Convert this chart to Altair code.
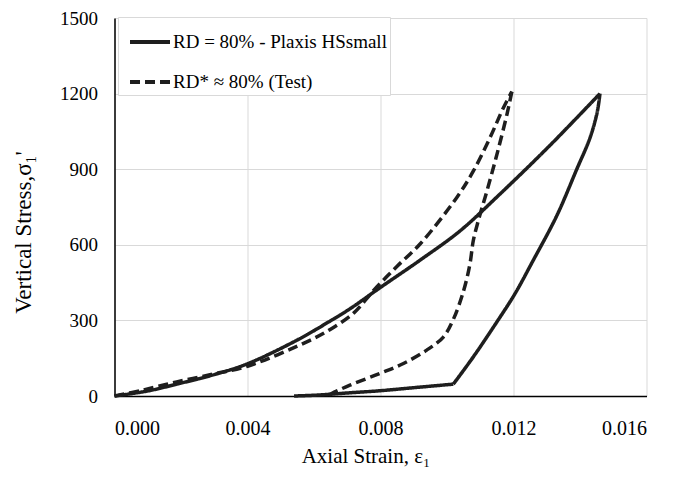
import altair as alt
import pandas as pd

series_names = ["RD = 80% - Plaxis HSsmall", "RD* ≈ 80% (Test)"]

# Plaxis HSsmall branches: loading, steep unloading, flat unloading tail
plaxis_load_strain = [0.0, 0.0010, 0.00187, 0.0030, 0.0040, 0.00548, 0.00648, 0.00708, 0.0080,
                      0.0092, 0.01039, 0.01159, 0.0131, 0.0146]
plaxis_load_stress = [0, 20, 47, 85, 128, 221, 297, 346, 431,
                      540, 655, 801, 995, 1200]
plaxis_unload_strain = [0.0146, 0.01457, 0.0145, 0.0143, 0.0139, 0.0133, 0.0126, 0.01204,
                        0.01149, 0.01079, 0.01019]
plaxis_unload_stress = [1200, 1168, 1116, 1024, 899, 715, 540, 405,
                        292, 155, 47]
plaxis_tail_strain = [0.01019, 0.0090, 0.0080, 0.0070, 0.0065, 0.0060, 0.0054]
plaxis_tail_stress = [47, 33, 21, 12, 7, 3, 0]

# Test branches: loading, unloading
test_load_strain = [0.0, 0.0008, 0.00187, 0.0030, 0.0040, 0.00588, 0.0065, 0.0072, 0.0078,
                    0.0085, 0.00919, 0.01029, 0.01079, 0.01129, 0.01169, 0.01195]
test_load_stress = [0, 22, 56, 88, 118, 221, 265, 330, 420,
                    515, 603, 787, 892, 1024, 1142, 1208]
test_unload_strain = [0.01195, 0.0118, 0.0115, 0.0112, 0.01094, 0.01079, 0.01069, 0.0105,
                      0.0102, 0.00989, 0.00939, 0.00869, 0.00799, 0.00708, 0.00653, 0.0064]
test_unload_stress = [1208, 1116, 958, 813, 695, 616, 524, 418,
                      307, 234, 182, 129, 90, 43, 10, 0]

x_ticks = [0.0, 0.004, 0.008, 0.012, 0.016]
y_ticks = [0, 300, 600, 900, 1200, 1500]

branches = [
    (series_names[0], "load", plaxis_load_strain, plaxis_load_stress),
    (series_names[0], "unload", plaxis_unload_strain, plaxis_unload_stress),
    (series_names[0], "tail", plaxis_tail_strain, plaxis_tail_stress),
    (series_names[1], "load", test_load_strain, test_load_stress),
    (series_names[1], "unload", test_unload_strain, test_unload_stress),
]
rows = []
for name, br, xs, ys in branches:
    for i, (s, v) in enumerate(zip(xs, ys)):
        rows.append({"strain": s, "stress": v, "series": name, "branch": name + "|" + br, "order": i})
df = pd.DataFrame(rows)

FONT = "Liberation Serif"

chart = alt.Chart(df).mark_line(strokeWidth=3.5, color="#1e1e1e", strokeCap="butt",
                                interpolate="catmull-rom").encode(
    x=alt.X("strain:Q",
            scale=alt.Scale(domain=[0, 0.016], nice=False),
            axis=alt.Axis(values=x_ticks, format=".3f", title="Axial Strain, ε₁",
                          labelPadding=22, titleBaseline="alphabetic", titleY=66, titleX=251)),
    y=alt.Y("stress:Q",
            scale=alt.Scale(domain=[0, 1500], nice=False),
            axis=alt.Axis(values=y_ticks, format="d", title="Vertical Stress,σ₁'",
                          labelPadding=17, labelFontSize=19,
                          titleBaseline="alphabetic", titleX=-84, titleY=214,
                          titleFontSize=23)),
    strokeDash=alt.StrokeDash("series:N",
                              scale=alt.Scale(domain=series_names, range=[[1, 0], [10, 5]]),
                              legend=alt.Legend(title=None, orient="none", legendX=3.5, legendY=-1,
                                                symbolType="stroke", symbolSize=1600,
                                                symbolStrokeWidth=4, symbolStrokeColor="#1e1e1e",
                                                symbolOffset=7, labelOffset=1,
                                                labelFont=FONT, labelFontSize=19, labelColor="#000",
                                                strokeColor="#d9d9d9", fillColor="white",
                                                padding=3, rowPadding=8, labelLimit=400)),
    detail="branch:N",
    order="order:Q",
).properties(
    width=532, height=378,
    autosize=alt.AutoSizeParams(type="none"),
    padding={"left": 106.5, "top": 10, "right": 30, "bottom": 76},
).configure_view(stroke=None).configure_axis(
    domainColor="#000", domainWidth=1.5, ticks=False,
    grid=True, gridColor="#d9d9d9", gridWidth=1,
    labelFont=FONT, labelFontSize=20, labelColor="#000",
    titleFont=FONT, titleFontSize=21, titleFontWeight="normal", titleColor="#000",
)

chart.save("out.html", embed_options={"renderer": "svg", "actions": False})
